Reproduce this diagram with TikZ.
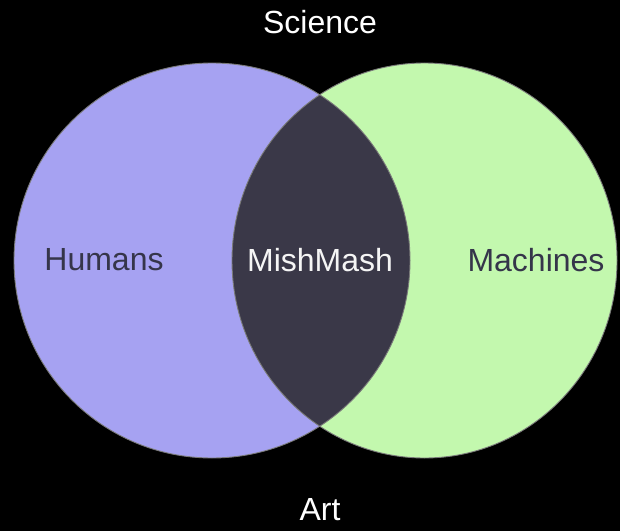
\documentclass[tikz,border=0pt]{standalone}
\usepackage{fontspec}
\setmainfont{Liberation Sans}
\definecolor{humanfill}{HTML}{A6A2F2}
\definecolor{machinefill}{HTML}{C3F8AE}
\definecolor{mixfill}{HTML}{3A3848}
\definecolor{darktext}{HTML}{35354A}
\definecolor{edgegray}{HTML}{7A7A7A}
\begin{document}
\begin{tikzpicture}[x=1pt,y=1pt,
  lbl/.style={inner sep=0pt,font=\fontsize{32}{36}\selectfont},
  ring/.style={draw=edgegray,line width=0.9pt}]
\useasboundingbox (0,0) rectangle (620,531);
\fill[black] (0,0) rectangle (620,531);
\coordinate (cl) at (212,270.5);
\coordinate (cr) at (424.5,270.5);
\fill[humanfill] (cl) ellipse [x radius=198, y radius=197.5];
\fill[machinefill] (cr) ellipse [x radius=192.5, y radius=197.5];
\begin{scope}
  \clip (cl) ellipse [x radius=198, y radius=197.5];
  \fill[mixfill] (cr) ellipse [x radius=192.5, y radius=197.5];
\end{scope}
\draw[ring] (cl) ellipse [x radius=198, y radius=197.5];
\draw[ring] (cr) ellipse [x radius=192.5, y radius=197.5];
\node[lbl,text=white] (sci) at (320,509) {Science};
\node[lbl,text=white] (art) at (320,21) {Art};
\node[lbl,text=darktext] (hum) at (104,271) {Humans};
\node[lbl,text=white!92!gray] (mix) at (320,271) {MishMash};
\node[lbl,text=darktext] (mach) at (536,271) {Machines};
\end{tikzpicture}
\end{document}
